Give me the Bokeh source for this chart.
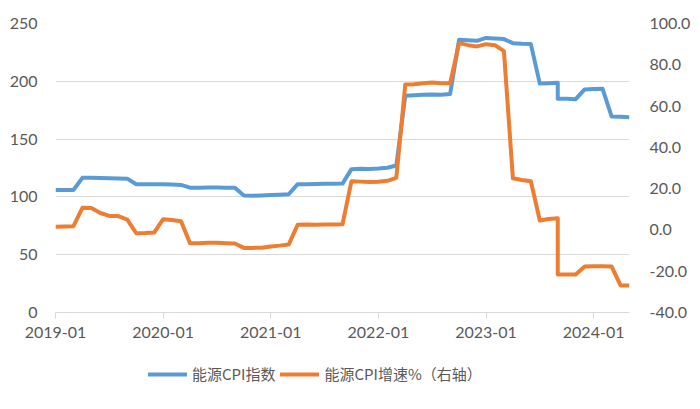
from bokeh.plotting import figure
from bokeh.layouts import column
from bokeh.models import (Range1d, LinearAxis, Legend, LegendItem, FixedTicker,
                          ColumnDataSource, NumeralTickFormatter, Grid)
from bokeh.embed import file_html
from bokeh.resources import INLINE

# ---- data ----
months = [
    "2019-01", "2019-02", "2019-03", "2019-04", "2019-05", "2019-06",
    "2019-07", "2019-08", "2019-09", "2019-10", "2019-11", "2019-12",
    "2020-01", "2020-02", "2020-03", "2020-04", "2020-05", "2020-06",
    "2020-07", "2020-08", "2020-09", "2020-10", "2020-11", "2020-12",
    "2021-01", "2021-02", "2021-03", "2021-04", "2021-05", "2021-06",
    "2021-07", "2021-08", "2021-09", "2021-10", "2021-11", "2021-12",
    "2022-01", "2022-02", "2022-03", "2022-04", "2022-05", "2022-06",
    "2022-07", "2022-08", "2022-09", "2022-10", "2022-11", "2022-12",
    "2023-01", "2023-02", "2023-03", "2023-04", "2023-05", "2023-06",
    "2023-07", "2023-08", "2023-09", "2023-09", "2023-10", "2023-11", "2023-12",
    "2024-01", "2024-02", "2024-03", "2024-04", "2024-05",
]
energy_cpi_index = [
    106, 106, 106, 116.5, 116.5, 116.3, 116.1, 116, 115.8, 111, 111, 111,
    111, 110.7, 110.4, 108, 108, 108.2, 108.2, 108, 108, 101.3, 101, 101.3,
    101.6, 101.9, 102.3, 111, 111, 111.2, 111.3, 111.3, 111.5, 124, 124.3, 124.2,
    124.5, 125.2, 127.2, 187.5, 188, 188.3, 188.5, 188.3, 189, 236, 235.5, 235,
    237.5, 237, 236.5, 233, 232.4, 232.2, 198, 198.3, 198.7, 185, 184.8, 184.5, 193,
    193.3, 193.5, 169.6, 169.3, 169,
]
energy_cpi_growth = [
    1.6, 1.7, 1.8, 10.7, 10.6, 8.2, 6.8, 6.7, 5.0, -1.6, -1.5, -1.3,
    5.2, 4.8, 4.2, -6.4, -6.5, -6.2, -6.2, -6.4, -6.6, -8.7, -8.7, -8.6,
    -8.0, -7.6, -7.1, 2.5, 2.6, 2.5, 2.6, 2.6, 2.7, 23.6, 23.4, 23.2,
    23.3, 23.8, 25.2, 70.4, 70.6, 71.0, 71.4, 71.0, 71.1, 90.5, 89.5, 88.9,
    90.0, 89.5, 86.6, 25.0, 24.2, 23.6, 4.6, 5.3, 5.7, -21.6, -21.6, -21.6, -17.7,
    -17.6, -17.6, -17.7, -26.9, -26.9,
]
x_tick_labels = ["2019-01", "2020-01", "2021-01", "2022-01", "2023-01", "2024-01"]
left_ticks = [0, 50, 100, 150, 200, 250]
right_ticks = [-40, -20, 0, 20, 40, 60, 80, 100]
series_names = ["能源CPI指数", "能源CPI增速%（右轴）"]
series_colors = ["#5B9BD5", "#ED7D31"]


def month_index(s):
    y, m = s.split("-")
    return (int(y) - 2019) * 12 + int(m) - 1


xs = [month_index(m) for m in months]
src = ColumnDataSource(dict(x=xs, idx=energy_cpi_index, gr=energy_cpi_growth))

NUM_FONT = "Lato"
CJK_FONT = "Noto Sans CJK SC"
TXT = "#595959"
GRID = "#d9d9d9"
LW = 4

p = figure(width=700, height=345, output_backend="svg", toolbar_location=None,
           x_range=Range1d(0, month_index(months[-1])),
           y_range=Range1d(left_ticks[0], left_ticks[-1]),
           min_border_left=55, min_border_right=71, min_border_top=23,
           min_border_bottom=33, x_axis_type=None, y_axis_type=None)
p.outline_line_color = None
p.extra_y_ranges = {"right": Range1d(right_ticks[0], right_ticks[-1])}

# bottom axis
xaxis = LinearAxis(ticker=FixedTicker(ticks=[month_index(t) for t in x_tick_labels]),
                   major_label_overrides={month_index(t): t for t in x_tick_labels})
xaxis.axis_line_color = GRID
xaxis.major_tick_line_color = GRID
xaxis.major_tick_in = 0
xaxis.major_tick_out = 6
xaxis.minor_tick_line_color = None
xaxis.major_label_standoff = 8
xaxis.major_label_text_font = NUM_FONT
xaxis.major_label_text_font_size = "16px"
xaxis.major_label_text_color = TXT
p.add_layout(xaxis, "below")

# left axis
yaxis = LinearAxis(ticker=FixedTicker(ticks=left_ticks))
yaxis.axis_line_color = None
yaxis.major_tick_line_color = None
yaxis.minor_tick_line_color = None
yaxis.major_label_standoff = 12
yaxis.major_label_text_font = NUM_FONT
yaxis.major_label_text_font_size = "16px"
yaxis.major_label_text_color = TXT
p.add_layout(yaxis, "left")

# right axis
raxis = LinearAxis(y_range_name="right", ticker=FixedTicker(ticks=right_ticks),
                   formatter=NumeralTickFormatter(format="0.0"))
raxis.axis_line_color = None
raxis.major_tick_line_color = None
raxis.minor_tick_line_color = None
raxis.major_label_standoff = 14
raxis.major_label_text_font = NUM_FONT
raxis.major_label_text_font_size = "16px"
raxis.major_label_text_color = TXT
p.add_layout(raxis, "right")

p.add_layout(Grid(dimension=1, ticker=FixedTicker(ticks=left_ticks),
                  grid_line_color=GRID, grid_line_width=1))

r1 = p.line("x", "idx", source=src, line_color=series_colors[0], line_width=LW,
            line_join="round")
r2 = p.line("x", "gr", source=src, line_color=series_colors[1], line_width=LW,
            line_join="round", y_range_name="right")

# ---- legend strip (separate figure below the chart; frames are aligned) ----
lg = figure(width=700, height=55, output_backend="svg", toolbar_location=None,
            x_range=Range1d(0, 1), y_range=Range1d(0, 1),
            min_border_left=55, min_border_right=71, min_border_top=0,
            min_border_bottom=0, x_axis_type=None, y_axis_type=None)
lg.outline_line_color = None
lg.xgrid.visible = False
lg.ygrid.visible = False
nan = float("nan")
dummy = ColumnDataSource(dict(x=[nan], y=[nan]))
l1 = lg.line("x", "y", source=dummy, line_color=series_colors[0], line_width=LW,
             line_cap="round")
l2 = lg.line("x", "y", source=dummy, line_color=series_colors[1], line_width=LW,
             line_cap="round")

legend = Legend(items=[LegendItem(label=series_names[0], renderers=[l1]),
                       LegendItem(label=series_names[1], renderers=[l2])],
                orientation="horizontal", location=(93, 16))
legend.label_text_font = CJK_FONT
legend.label_text_font_size = "15px"
legend.label_text_color = TXT
legend.glyph_width = 39
legend.glyph_height = 20
legend.label_standoff = 5
legend.spacing = 5
legend.padding = 0
legend.margin = 0
legend.border_line_color = None
legend.background_fill_alpha = 0
lg.add_layout(legend, "center")

layout = column(p, lg, spacing=0)
open("out.html", "w").write(file_html(layout, INLINE))
